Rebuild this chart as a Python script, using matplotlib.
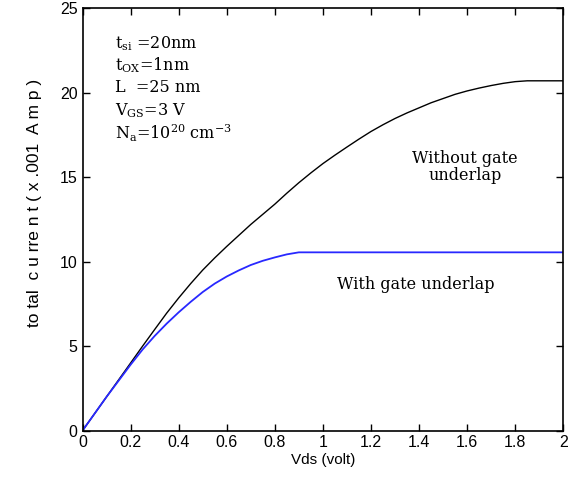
import matplotlib.pyplot as plt

# courbes (courant en mA)
vds = [0.0, 0.05, 0.1, 0.15, 0.2, 0.25, 0.3, 0.35, 0.4, 0.45, 0.5, 0.55, 0.6,
       0.65, 0.7, 0.75, 0.8, 0.85, 0.9, 0.95, 1.0, 1.05, 1.1, 1.15, 1.2, 1.25,
       1.3, 1.35, 1.4, 1.45, 1.5, 1.55, 1.6, 1.65, 1.7, 1.75, 1.8, 1.85, 1.9,
       1.95, 2.0]
i_sans_underlap = [0.0, 1.0, 2.0, 3.0, 4.0, 5.0, 5.98, 6.95, 7.85, 8.7, 9.5,
                   10.22, 10.9, 11.55, 12.2, 12.8, 13.4, 14.05, 14.67, 15.25, 15.8,
                   16.3, 16.78, 17.25, 17.7, 18.1, 18.47, 18.8, 19.1, 19.4, 19.65,
                   19.9, 20.1, 20.27, 20.42, 20.55, 20.65, 20.7, 20.7, 20.7, 20.7]
i_avec_underlap = [0.0, 1.0, 2.0, 2.95, 3.9, 4.8, 5.6, 6.33, 7.0, 7.62, 8.2,
                   8.7, 9.12, 9.48, 9.8, 10.05, 10.25, 10.43, 10.55, 10.55, 10.55,
                   10.55, 10.55, 10.55, 10.55, 10.55, 10.55, 10.55, 10.55, 10.55,
                   10.55, 10.55, 10.55, 10.55, 10.55, 10.55, 10.55, 10.55, 10.55,
                   10.55, 10.55]

x_ticks = [0, 0.2, 0.4, 0.6, 0.8, 1, 1.2, 1.4, 1.6, 1.8, 2]
x_tick_labels = ['0', '0.2', '0.4', '0.6', '0.8', '1', '1.2', '1.4', '1.6', '1.8', '2']
y_ticks = [0, 5, 10, 15, 20, 25]

params = [r'$\mathregular{t_{si}}$ =20nm',
          r'$\mathregular{t_{OX}}$=1nm',
          r'L  =25 nm',
          r'$\mathregular{V_{GS}}$=3 V',
          r'$\mathregular{N_a}$=$\mathregular{10^{20}}$ cm$\mathregular{^{-3}}$']

sans = ['Liberation Sans Narrow', 'Liberation Sans', 'DejaVu Sans']
serif = ['DejaVu Serif']

fig = plt.figure(figsize=(5.73, 4.79), dpi=100)
ax = fig.add_axes([0.144, 0.101, 0.839, 0.882])

ax.plot(vds, i_sans_underlap, color='black', lw=1.0)
ax.plot(vds, i_avec_underlap, color='#2828ff', lw=1.3)

ax.set_xlim(0, 2)
ax.set_ylim(0, 25)
ax.set_xticks(x_ticks)
ax.set_xticklabels(x_tick_labels, family=sans, fontsize=11.5)
ax.set_yticks(y_ticks)
ax.set_yticklabels([str(v) for v in y_ticks], family=sans, fontsize=11.5)
ax.tick_params(direction='in', top=True, right=True, length=5, width=1)
for s in ax.spines.values():
    s.set_linewidth(1.2)

ax.set_xlabel('Vds (volt)', family=sans, fontsize=11, labelpad=2)
ax.set_ylabel('to tal  c u rre n t ( x .001  A m p )', family=sans, fontsize=12.5,
              labelpad=13, y=0.54)

# paramètres du dispositif
ys = [22.9, 21.6, 20.3, 18.95, 17.6]
for txt, y in zip(params, ys):
    ax.text(0.135, y, txt, family=serif, fontsize=11.5, va='center', ha='left')

ax.text(1.59, 15.6, 'Without gate\nunderlap', family=serif, fontsize=11.5,
        ha='center', va='center', linespacing=1.05)
ax.text(1.385, 8.66, 'With gate underlap', family=serif, fontsize=11.5,
        ha='center', va='center')

plt.savefig('out.png', dpi=100)
